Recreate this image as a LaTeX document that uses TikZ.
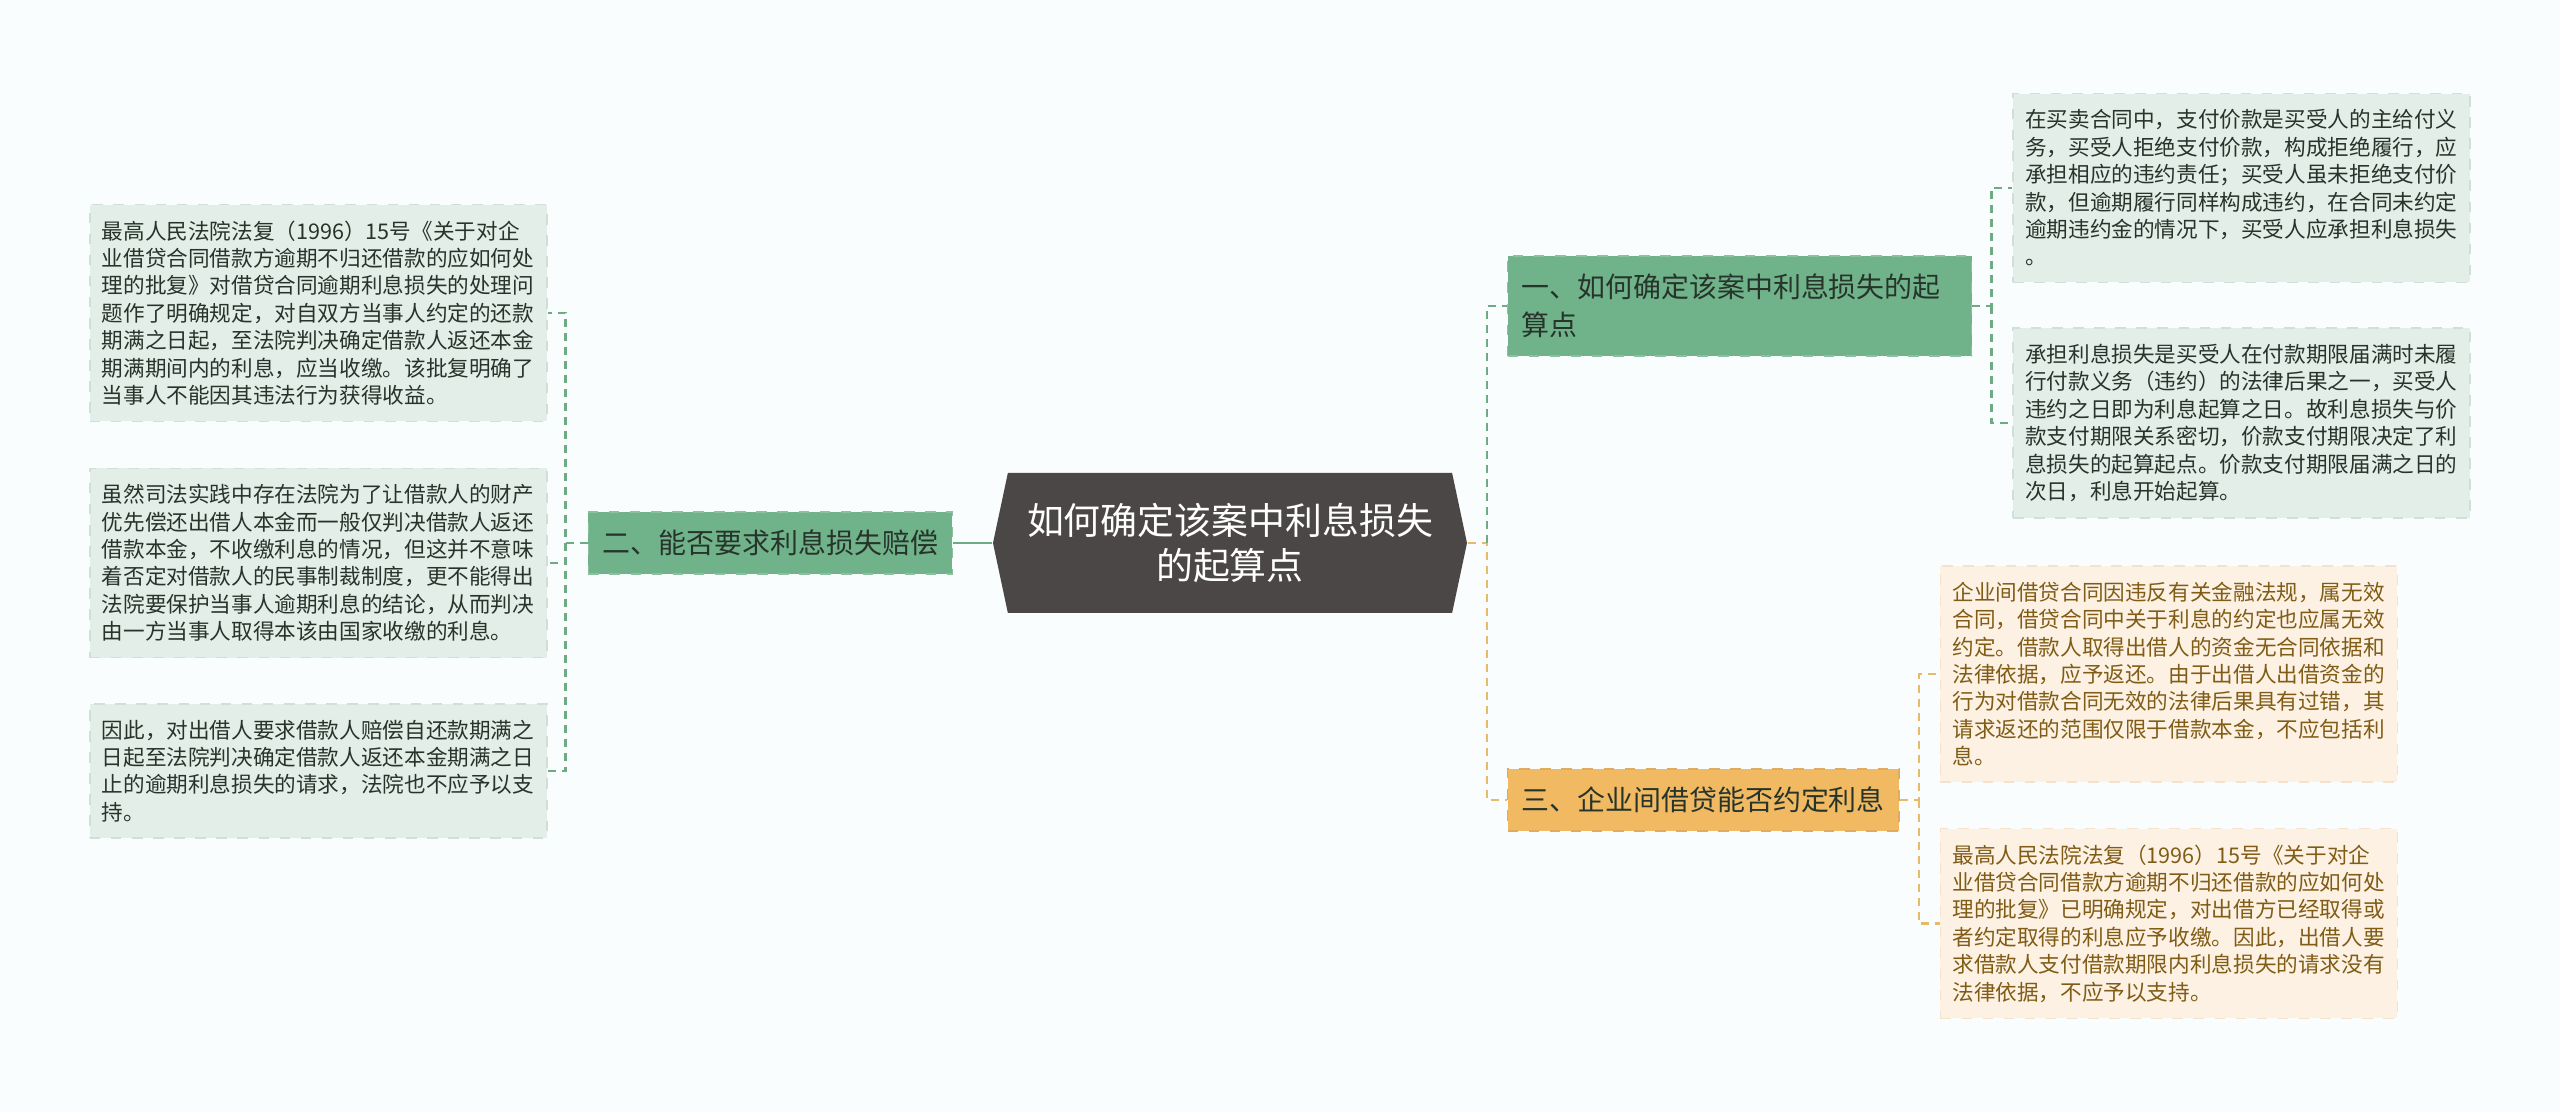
\documentclass[tikz,border=0pt]{standalone}
\usepackage{fontspec}
\newfontfamily\cjk{Noto Sans CJK SC}
\usetikzlibrary{positioning,shapes.symbols}
\definecolor{Bg}{RGB}{250,253,253}
\definecolor{RootFill}{RGB}{75,71,70}
\definecolor{GreenMain}{RGB}{112,178,137}
\definecolor{GreenEdge}{RGB}{140,192,160}
\definecolor{GreenLeaf}{RGB}{226,238,231}
\definecolor{GreenLeafEdge}{RGB}{208,224,214}
\definecolor{GreenLine}{RGB}{110,170,132}
\definecolor{GreenText}{RGB}{38,52,43}
\definecolor{OrangeMain}{RGB}{240,185,98}
\definecolor{OrangeEdge}{RGB}{222,172,96}
\definecolor{OrangeLeaf}{RGB}{252,241,226}
\definecolor{OrangeLeafEdge}{RGB}{242,226,206}
\definecolor{OrangeLine}{RGB}{232,186,104}
\definecolor{OrangeText}{RGB}{128,92,22}
\newcommand{\branch}[3]{
    \node(#1)[
        draw,
        dashed,
        line width=0.5pt,
        inner xsep=0.14cm,
        inner ysep=0.18cm,
        align=left,
        font={\cjk\fontsize{7.95}{10.8}\selectfont},
        #2
    ]{#3};
}
\newcommand{\leaf}[3]{
    \node(#1)[
        draw,
        dashed,
        line width=0.4pt,
        text width=4.33cm,
        inner xsep=0.12cm,
        inner ysep=0.16cm,
        align=left,
        font={\cjk\fontsize{6.15}{7.8}\selectfont},
        #2
    ]{#3};
}
\tikzset{
    gline/.style={draw=GreenLine, line width=0.6pt, dash pattern=on 0.08cm off 0.06cm},
    oline/.style={draw=OrangeLine, line width=0.6pt, dash pattern=on 0.08cm off 0.06cm}
}

\begin{document}
\begin{tikzpicture}
	\fill[Bg] (-12.30,5.43) rectangle (13.30,-5.69);
	\useasboundingbox (-12.30,5.43) rectangle (13.30,-5.69);

	\node(root)[
		signal,
		signal to=west and east,
		signal pointer angle=156,
		fill=RootFill,
		text=white,
		align=center,
		minimum width=4.74cm,
		minimum height=1.40cm,
		font={\cjk\fontsize{10.5}{12.8}\selectfont}
	] at (0,0) {如何确定该案中利息损失\\的起算点};

	% left side
	\branch{bL}{fill=GreenMain, draw=GreenEdge, text=GreenText, minimum width=3.64cm, left=0.39cm of root}{二、能否要求利息损失赔偿}

	\leaf{L1}{fill=GreenLeaf, draw=GreenLeafEdge, text=GreenText, left=0.40cm of bL, yshift=2.30cm}{最高人民法院法复（1996）15号《关于对企\\业借贷合同借款方逾期不归还借款的应如何处\\理的批复》对借贷合同逾期利息损失的处理问\\题作了明确规定，对自双方当事人约定的还款\\期满之日起，至法院判决确定借款人返还本金\\期满期间内的利息，应当收缴。该批复明确了\\当事人不能因其违法行为获得收益。}
	\leaf{L2}{fill=GreenLeaf, draw=GreenLeafEdge, text=GreenText, left=0.40cm of bL, yshift=-0.20cm}{虽然司法实践中存在法院为了让借款人的财产\\优先偿还出借人本金而一般仅判决借款人返还\\借款本金，不收缴利息的情况，但这并不意味\\着否定对借款人的民事制裁制度，更不能得出\\法院要保护当事人逾期利息的结论，从而判决\\由一方当事人取得本该由国家收缴的利息。}
	\leaf{L3}{fill=GreenLeaf, draw=GreenLeafEdge, text=GreenText, left=0.40cm of bL, yshift=-2.28cm}{因此，对出借人要求借款人赔偿自还款期满之\\日起至法院判决确定借款人返还本金期满之日\\止的逾期利息损失的请求，法院也不应予以支\\持。}

	\draw[draw=GreenLine, line width=0.6pt] (root.west) -- (bL.east);
	\coordinate (lj) at ([xshift=-0.22cm]bL.west);
	\draw[gline] (bL.west) -- (lj) |- (L1.east);
	\draw[gline] (lj) |- (L2.east);
	\draw[gline] (lj) |- (L3.east);

	% right side
	\branch{R1}{fill=GreenMain, draw=GreenEdge, text=GreenText, text width=4.36cm, right=0.39cm of root, yshift=2.37cm}{一、如何确定该案中利息损失的起\\算点}
	\branch{R3}{fill=OrangeMain, draw=OrangeEdge, text=GreenText, minimum width=3.91cm, right=0.39cm of root, yshift=-2.57cm}{三、企业间借贷能否约定利息}

	\leaf{RL1}{fill=GreenLeaf, draw=GreenLeafEdge, text=GreenText, right=0.40cm of R1, yshift=1.18cm}{在买卖合同中，支付价款是买受人的主给付义\\务，买受人拒绝支付价款，构成拒绝履行，应\\承担相应的违约责任；买受人虽未拒绝支付价\\款，但逾期履行同样构成违约，在合同未约定\\逾期违约金的情况下，买受人应承担利息损失\\。}
	\leaf{RL2}{fill=GreenLeaf, draw=GreenLeafEdge, text=GreenText, right=0.40cm of R1, yshift=-1.17cm}{承担利息损失是买受人在付款期限届满时未履\\行付款义务（违约）的法律后果之一，买受人\\违约之日即为利息起算之日。故利息损失与价\\款支付期限关系密切，价款支付期限决定了利\\息损失的起算起点。价款支付期限届满之日的\\次日，利息开始起算。}
	\leaf{RL3}{fill=OrangeLeaf, draw=OrangeLeafEdge, text=OrangeText, right=0.40cm of R3, yshift=1.26cm}{企业间借贷合同因违反有关金融法规，属无效\\合同，借贷合同中关于利息的约定也应属无效\\约定。借款人取得出借人的资金无合同依据和\\法律依据，应予返还。由于出借人出借资金的\\行为对借款合同无效的法律后果具有过错，其\\请求返还的范围仅限于借款本金，不应包括利\\息。}
	\leaf{RL4}{fill=OrangeLeaf, draw=OrangeLeafEdge, text=OrangeText, right=0.40cm of R3, yshift=-1.235cm}{最高人民法院法复（1996）15号《关于对企\\业借贷合同借款方逾期不归还借款的应如何处\\理的批复》已明确规定，对出借方已经取得或\\者约定取得的利息应予收缴。因此，出借人要\\求借款人支付借款期限内利息损失的请求没有\\法律依据，不应予以支持。}

	\coordinate (rj) at ([xshift=0.19cm]root.east);
	\draw[oline] (root.east) -- (rj) |- (R3.west);
	\draw[gline] (rj) |- (R1.west);

	\coordinate (r1j) at ([xshift=0.19cm]R1.east);
	\draw[gline] (R1.east) -- (r1j) |- (RL1.west);
	\draw[gline] (r1j) |- (RL2.west);

	\coordinate (r3j) at ([xshift=0.19cm]R3.east);
	\draw[oline] (R3.east) -- (r3j) |- (RL3.west);
	\draw[oline] (r3j) |- (RL4.west);
\end{tikzpicture}
\end{document}
